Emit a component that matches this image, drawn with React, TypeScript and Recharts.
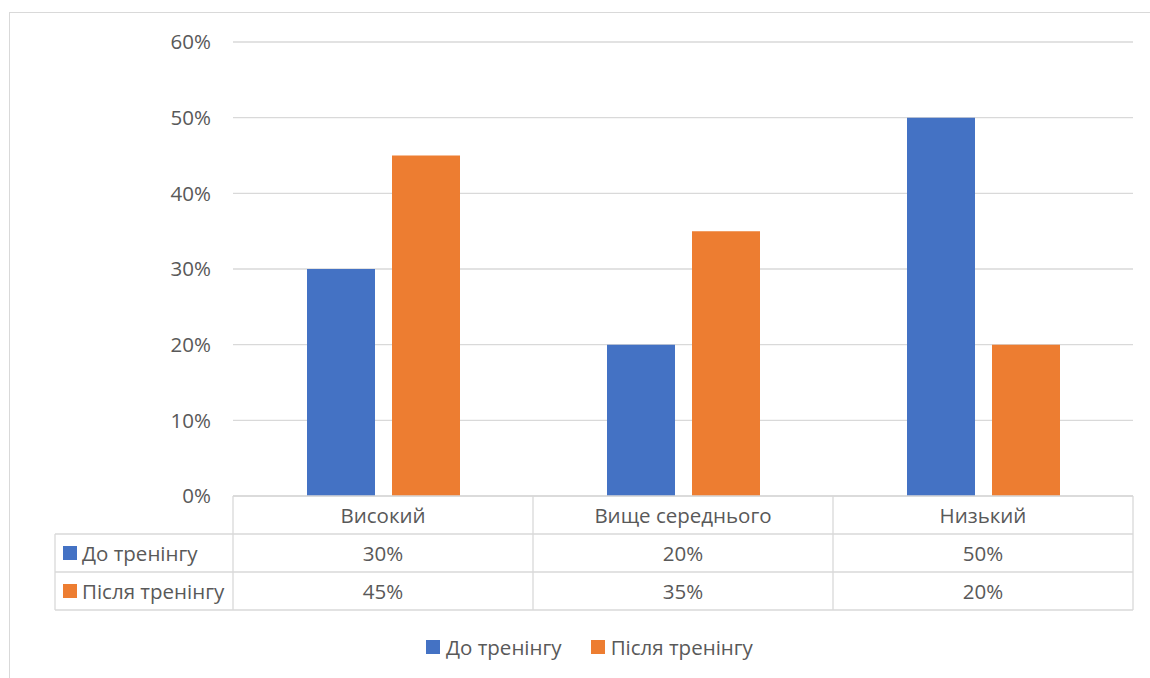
import React from "react";
import { BarChart, Bar, XAxis, YAxis, CartesianGrid, Legend } from "recharts";

const categories = ["Високий", "Вище середнього", "Низький"];
const beforeTraining = [0.3, 0.2, 0.5];
const afterTraining = [0.45, 0.35, 0.2];
const yTicks = [0, 0.1, 0.2, 0.3, 0.4, 0.5, 0.6];

const SERIES = [
  { key: "before", name: "До тренінгу", color: "#4472C4", values: beforeTraining },
  { key: "after", name: "Після тренінгу", color: "#ED7D31", values: afterTraining },
];

const data = categories.map((name, i) => ({
  name,
  before: beforeTraining[i],
  after: afterTraining[i],
}));

const W = 1150;
const H = 678;
const PLOT_LEFT = 233;
const PLOT_RIGHT = 1133;
const ROW_H = 38;
const TABLE_LEFT = 55;
const FONT = "'Open Sans', 'Noto Sans', sans-serif";
const TEXT = "#595959";
const LINE = "#d9d9d9";
const FS = 20.5;

const pct = (v: number) => `${Math.round(v * 100)}%`;

// draws one column of the data table under each category
function TableTick(props: any) {
  const { x, y, payload } = props;
  const i = payload.index;
  const band = (PLOT_RIGHT - PLOT_LEFT) / categories.length;
  const left = x - band / 2;
  const right = x + band / 2;
  const bottom = y + ROW_H * 3;
  return (
    <g>
      {i === 0 && (
        <g>
          <line x1={TABLE_LEFT} y1={y + ROW_H} x2={left} y2={y + ROW_H} stroke={LINE} strokeWidth={1.3} />
          <line x1={TABLE_LEFT} y1={y + ROW_H * 2} x2={left} y2={y + ROW_H * 2} stroke={LINE} strokeWidth={1.3} />
          <line x1={TABLE_LEFT} y1={bottom} x2={left} y2={bottom} stroke={LINE} strokeWidth={1.3} />
          <line x1={TABLE_LEFT} y1={y + ROW_H} x2={TABLE_LEFT} y2={bottom} stroke={LINE} strokeWidth={1.3} />
          <line x1={left} y1={y} x2={left} y2={bottom} stroke={LINE} strokeWidth={1.3} />
          {SERIES.map((s, k) => (
            <g key={s.key}>
              <rect x={TABLE_LEFT + 8} y={y + ROW_H * (k + 1) + ROW_H / 2 - 7} width={14} height={14} fill={s.color} />
              <text
                x={TABLE_LEFT + 27}
                y={y + ROW_H * (k + 1) + ROW_H / 2}
                dominantBaseline="central"
                fill={TEXT}
                fontSize={FS}
                fontFamily={FONT}
              >
                {s.name}
              </text>
            </g>
          ))}
        </g>
      )}
      <line x1={right} y1={y} x2={right} y2={bottom} stroke={LINE} strokeWidth={1.3} />
      <line x1={left} y1={y + ROW_H} x2={right} y2={y + ROW_H} stroke={LINE} strokeWidth={1.3} />
      <line x1={left} y1={y + ROW_H * 2} x2={right} y2={y + ROW_H * 2} stroke={LINE} strokeWidth={1.3} />
      <line x1={left} y1={bottom} x2={right} y2={bottom} stroke={LINE} strokeWidth={1.3} />
      <text x={x} y={y + ROW_H / 2} textAnchor="middle" dominantBaseline="central" fill={TEXT} fontSize={FS} fontFamily={FONT}>
        {payload.value}
      </text>
      {SERIES.map((s, k) => (
        <text
          key={s.key}
          x={x}
          y={y + ROW_H * (k + 1) + ROW_H / 2}
          textAnchor="middle"
          dominantBaseline="central"
          fill={TEXT}
          fontSize={FS}
          fontFamily={FONT}
        >
          {pct(s.values[i])}
        </text>
      ))}
    </g>
  );
}

function LegendContent() {
  return (
    <div style={{ height: 68, display: "flex", justifyContent: "flex-start", alignItems: "center", paddingLeft: 426, paddingTop: 6, boxSizing: "border-box" }}>
      {SERIES.map((s) => (
        <div key={s.key} style={{ display: "flex", alignItems: "center", marginRight: 29 }}>
          <span style={{ width: 14, height: 14, background: s.color, display: "inline-block", marginRight: 6 }} />
          <span style={{ color: TEXT, fontSize: FS, fontFamily: FONT }}>{s.name}</span>
        </div>
      ))}
    </div>
  );
}

export default function App() {
  return (
    <div style={{ position: "absolute", left: 0, top: 0, width: W, height: H, overflow: "hidden", background: "#fff" }}>
      <div
        style={{
          position: "absolute",
          left: 9,
          top: 12,
          width: 1300,
          height: 800,
          border: `1px solid ${LINE}`,
        }}
      />
      <div style={{ position: "absolute", left: 0, top: 0 }}>
        <BarChart
          width={W}
          height={H}
          data={data}
          margin={{ top: 42, right: W - PLOT_RIGHT, bottom: 0, left: 0 }}
          barCategoryGap={74}
          barGap={17}
        >
          <CartesianGrid vertical={false} stroke={LINE} strokeWidth={1.3} />
          <YAxis
            width={PLOT_LEFT}
            domain={[0, 0.6]}
            ticks={yTicks}
            tickFormatter={pct}
            axisLine={false}
            tickLine={false}
            tickSize={0}
            tickMargin={22}
            tick={{ fill: TEXT, fontSize: FS, fontFamily: FONT }}
          />
          <XAxis
            dataKey="name"
            height={ROW_H * 3}
            axisLine={{ stroke: LINE, strokeWidth: 1.3 }}
            tickLine={false}
            tickSize={0}
            tickMargin={0}
            interval={0}
            tick={<TableTick />}
          />
          <Legend verticalAlign="bottom" content={<LegendContent />} />
          {SERIES.map((s) => (
            <Bar key={s.key} dataKey={s.key} name={s.name} fill={s.color} isAnimationActive={false} />
          ))}
        </BarChart>
      </div>
    </div>
  );
}
